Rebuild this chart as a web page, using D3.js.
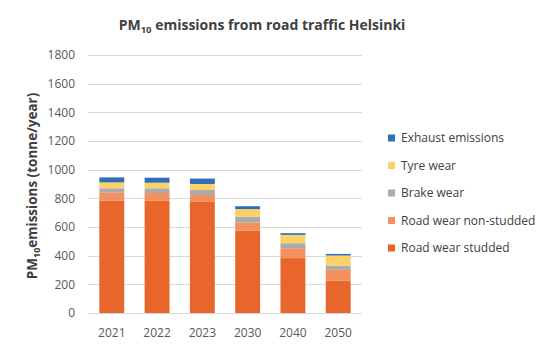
<!DOCTYPE html>
<html>
<head>
<meta charset="utf-8">
<script src="https://cdn.jsdelivr.net/npm/d3@7"></script>
<style>
  body { margin: 0; background: #fff; }
  text { font-family: "Open Sans", "Noto Sans", sans-serif; }
</style>
</head>
<body>
<svg id="chart" width="556" height="351"></svg>
<script>
// chart data (tonne/year)
var years = ['2021', '2022', '2023', '2030', '2040', '2050'];
var studded    = [783, 785, 775, 573, 383, 227];
var nonStudded = [56, 52, 48, 58, 69, 74];
var brake      = [31, 33, 35, 42, 35, 30];
var tyre       = [41, 39, 42, 52, 58, 70];
var exhaust    = [35, 35, 38, 20, 12, 11];
var yTicks = [0, 200, 400, 600, 800, 1000, 1200, 1400, 1600, 1800];

var seriesNames = ['Road wear studded', 'Road wear non-studded', 'Brake wear', 'Tyre wear', 'Exhaust emissions'];
var seriesColors = ['#E8652B', '#F29060', '#ABABAB', '#FDD166', '#2F6FB8'];

var
  margin = {top: 55, right: 194, bottom: 38, left: 88},
  width = 556 - margin.left - margin.right,
  height = 351 - margin.top - margin.bottom,
  svg = d3.select('#chart'),
  g = svg.append('g').attr('transform', 'translate(' + margin.left + ',' + margin.top + ')')
  ;

var rows = years.map(function(y, i){
  return {
    year: y,
    'Road wear studded': studded[i],
    'Road wear non-studded': nonStudded[i],
    'Brake wear': brake[i],
    'Tyre wear': tyre[i],
    'Exhaust emissions': exhaust[i]
  };
});

var stack = d3.stack().keys(seriesNames)(rows);

var xScale = d3.scaleBand().domain(years).range([0, width]).paddingInner(0.45).paddingOuter(0.25);
var yScale = d3.scaleLinear().domain([0, 1800]).range([height, 0]);

// gridlines
g.append('g')
  .selectAll('line')
  .data(yTicks)
  .join('line')
  .attr('x1', 0)
  .attr('x2', width)
  .attr('y1', function(d){ return Math.round(yScale(d)) + 0.5; })
  .attr('y2', function(d){ return Math.round(yScale(d)) + 0.5; })
  .attr('stroke', '#d9d9d9')
  .attr('stroke-width', 1);

// y tick labels
g.append('g')
  .selectAll('text')
  .data(yTicks)
  .join('text')
  .attr('x', -13)
  .attr('y', function(d){ return yScale(d); })
  .attr('dy', '0.35em')
  .attr('text-anchor', 'end')
  .attr('font-size', 12)
  .attr('fill', '#595959')
  .text(function(d){ return d; });

// x labels
g.append('g')
  .selectAll('text')
  .data(years)
  .join('text')
  .attr('x', function(d){ return xScale(d) + xScale.bandwidth() / 2; })
  .attr('y', height + 20)
  .attr('dy', '0.35em')
  .attr('text-anchor', 'middle')
  .attr('font-size', 12)
  .attr('fill', '#595959')
  .text(function(d){ return d; });

// stacked bars
g.append('g')
  .selectAll('g')
  .data(stack)
  .join('g')
  .attr('fill', function(d, i){ return seriesColors[i]; })
  .selectAll('rect')
  .data(function(d){ return d; })
  .join('rect')
  .attr('x', function(d){ return xScale(d.data.year); })
  .attr('y', function(d){ return yScale(d[1]); })
  .attr('width', xScale.bandwidth())
  .attr('height', function(d){ return yScale(d[0]) - yScale(d[1]); });

// title
var title = svg.append('text')
  .attr('x', 262)
  .attr('y', 30)
  .attr('text-anchor', 'middle')
  .attr('font-size', 14)
  .attr('font-weight', 'bold')
  .attr('fill', '#404040');
title.append('tspan').text('PM');
title.append('tspan').attr('font-size', 9.5).attr('dy', 3).text('10');
title.append('tspan').attr('dy', -3).text(' emissions from road traffic Helsinki');

// y axis title
var yTitle = svg.append('text')
  .attr('transform', 'translate(37,' + (margin.top + height / 2 + 2) + ') rotate(-90)')
  .attr('text-anchor', 'middle')
  .attr('font-size', 13.5)
  .attr('font-weight', 'bold')
  .attr('fill', '#404040');
yTitle.append('tspan').text('PM');
yTitle.append('tspan').attr('font-size', 9).attr('dy', 3).text('10');
yTitle.append('tspan').attr('dy', -3).text('emissions (tonne/year)');

// legend, top entry is exhaust
var legendItems = seriesNames.slice().reverse();
var legend = svg.append('g')
  .attr('transform', 'translate(388,138)')
  .selectAll('g')
  .data(legendItems)
  .join('g')
  .attr('transform', function(d, i){ return 'translate(0,' + (i * 27.5) + ')'; });

legend.append('rect')
  .attr('x', 0)
  .attr('y', -3.5)
  .attr('width', 7)
  .attr('height', 7)
  .attr('fill', function(d){ return seriesColors[seriesNames.indexOf(d)]; });

legend.append('text')
  .attr('x', 13)
  .attr('y', 0)
  .attr('dy', '0.35em')
  .attr('font-size', 12)
  .attr('fill', '#404040')
  .text(function(d){ return d; });
</script>
</body>
</html>
